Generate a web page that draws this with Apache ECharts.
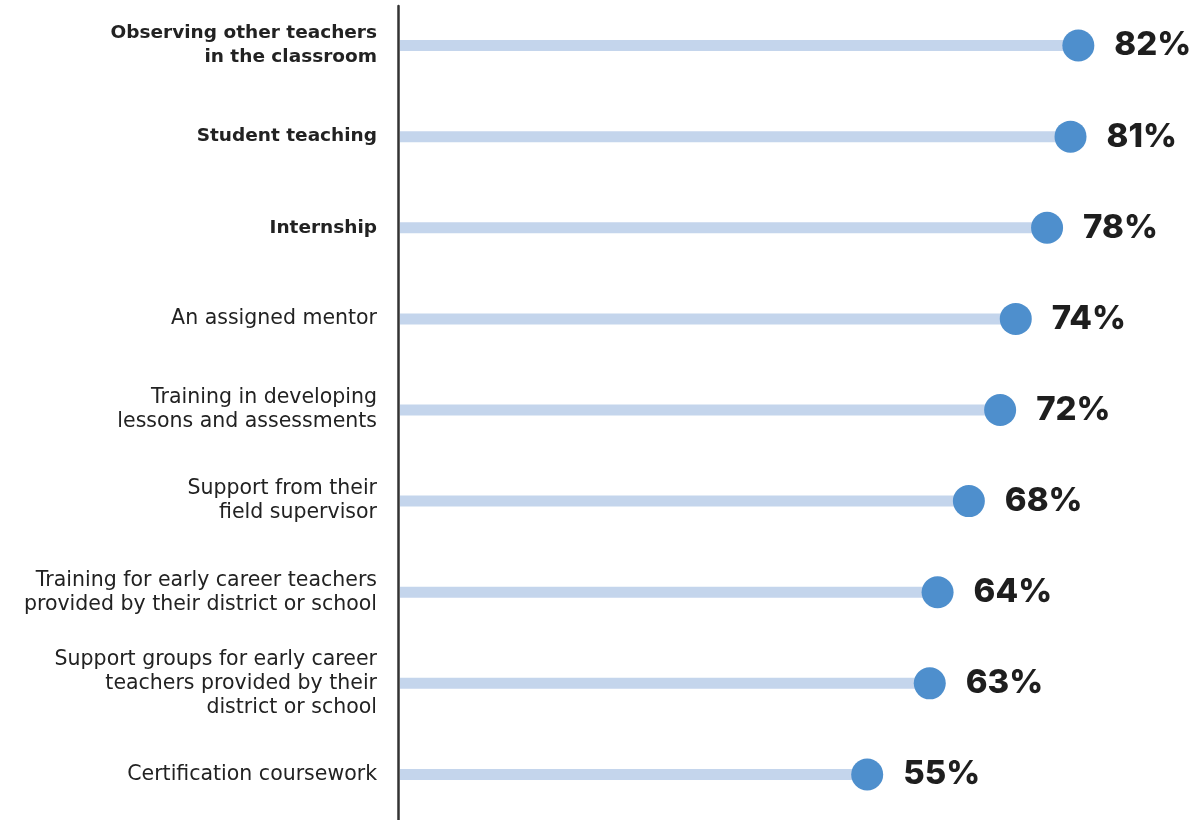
<!DOCTYPE html>
<html>
<head>
<meta charset="utf-8">
<script src="https://cdn.jsdelivr.net/npm/echarts@6/dist/echarts.min.js"></script>
<style>
  html, body { margin: 0; padding: 0; background: #ffffff; }
  #chart { width: 1201px; height: 820px; }
</style>
</head>
<body>
<div id="chart"></div>
<script>
const categories = [
  'Observing other teachers\nin the classroom',
  'Student teaching',
  'Internship',
  'An assigned mentor',
  'Training in developing\nlessons and assessments',
  'Support from their\nfield supervisor',
  'Training for early career teachers\nprovided by their district or school',
  'Support groups for early career\nteachers provided by their\ndistrict or school',
  'Certification coursework'
];
const values = [82, 81, 78, 74, 72, 68, 64, 63, 55];
const boldLabels = [true, true, true, false, false, false, false, false, false];

const X_MIN = -5;
const X_MAX = 95;

const chart = echarts.init(document.getElementById('chart'));

const option = {
  animation: false,
  backgroundColor: '#ffffff',
  grid: [
    { left: 398, right: 21, top: -2, bottom: -2 },
    { left: 398, width: 10, top: 6, bottom: 0 }
  ],
  xAxis: [
    { gridIndex: 0, type: 'value', min: X_MIN, max: X_MAX, show: false },
    { gridIndex: 1, type: 'value', show: false }
  ],
  yAxis: [
    {
      gridIndex: 0,
      type: 'category',
      data: categories,
      inverse: true,
      axisLine: { show: false },
      axisTick: { show: false },
      splitLine: { show: false },
      axisLabel: {
        margin: 21,
        formatter: function (val, idx) {
          const key = boldLabels[idx] ? 'b' : 'r';
          return val.split('\n').map(function (l) { return '{' + key + '|' + l + '}'; }).join('\n');
        },
        rich: {
          b: { fontFamily: 'DejaVu Sans', fontSize: 18.5, fontWeight: 'bold', lineHeight: 24, color: '#222222', align: 'right' },
          r: { fontFamily: 'DejaVu Sans', fontSize: 20.5, fontWeight: 'normal', lineHeight: 24, color: '#222222', align: 'right' }
        }
      }
    },
    {
      gridIndex: 1,
      type: 'value',
      axisLine: { show: true, lineStyle: { color: '#333333', width: 2.5 } },
      axisTick: { show: false },
      axisLabel: { show: false },
      splitLine: { show: false }
    }
  ],
  series: [
    {
      type: 'custom',
      xAxisIndex: 0,
      yAxisIndex: 0,
      data: values.map(function (v, i) { return [v, i]; }),
      encode: { x: 0, y: 1 },
      renderItem: function (params, api) {
        const start = api.coord([X_MIN, api.value(1)]);
        const end = api.coord([api.value(0), api.value(1)]);
        const h = 11;
        return {
          type: 'rect',
          shape: { x: start[0] + 2, y: start[1] - h / 2, width: end[0] - start[0] - 2, height: h },
          style: { fill: '#c4d5ec' }
        };
      },
      z: 1
    },
    {
      type: 'scatter',
      xAxisIndex: 0,
      yAxisIndex: 0,
      symbol: 'circle',
      symbolSize: 32,
      itemStyle: { color: '#4e8fcd', opacity: 1 },
      data: values.map(function (v, i) { return [v, i]; }),
      label: {
        show: true,
        position: 'right',
        distance: 20,
        formatter: function (p) { return p.value[0] + '%'; },
        fontFamily: 'Inter',
        fontWeight: 800,
        fontSize: 33,
        color: '#1e1e1e'
      },
      z: 2
    }
  ]
};

chart.setOption(option);
</script>
</body>
</html>
